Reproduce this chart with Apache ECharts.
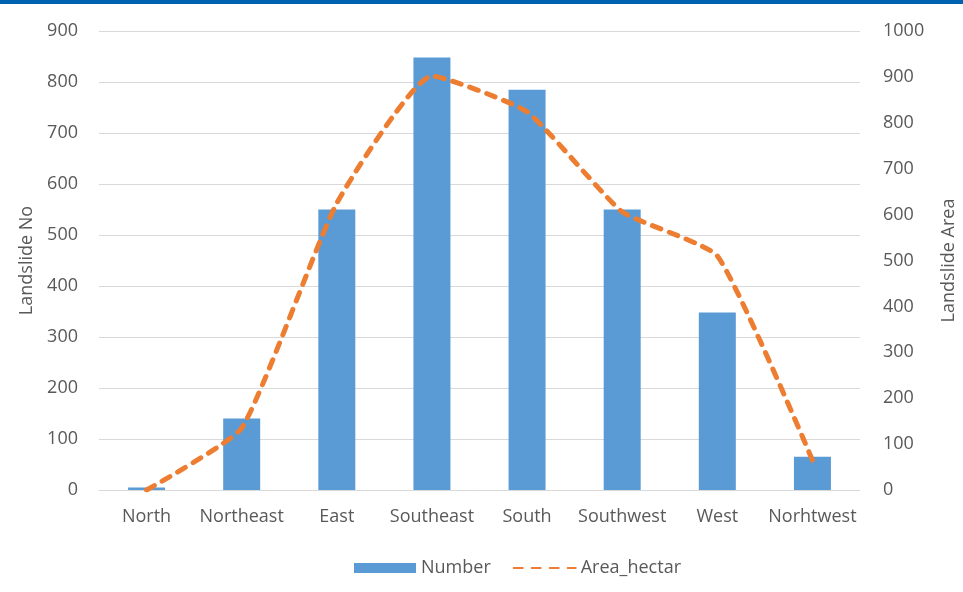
<!DOCTYPE html>
<html>
<head>
<meta charset="utf-8">
<script src="https://cdn.jsdelivr.net/npm/echarts@6/dist/echarts.min.js"></script>
<style>
  html, body { margin: 0; padding: 0; background: #fff; }
  #chart { width: 963px; height: 592px; }
</style>
</head>
<body>
<div id="chart"></div>
<script>
// Landslide counts and affected area by slope aspect
const aspects = ['North', 'Northeast', 'East', 'Southeast', 'South', 'Southwest', 'West', 'Norhtwest'];
const landslideNumber = [5, 140, 550, 848, 785, 550, 348, 65];
const areaHectar = [0, 135, 625, 902, 824, 606, 510, 65];

const textColor = '#595959';
const gridColor = '#d9d9d9';
const fontFamily = '"Open Sans", "DejaVu Sans", sans-serif';
const fontSize = 18;

const chart = echarts.init(document.getElementById('chart'), null, { renderer: 'canvas' });

chart.setOption({
  animation: false,
  backgroundColor: '#ffffff',
  textStyle: { fontFamily: fontFamily, color: textColor },
  graphic: [{
    type: 'rect',
    left: 0, top: 0,
    shape: { width: 963, height: 4 },
    style: { fill: '#0063b1' }
  }],
  grid: { left: 99, right: 103, top: 31, bottom: 102, containLabel: false, outerBoundsMode: 'none' },
  legend: {
    bottom: 10,
    left: 349,
    itemWidth: 62,
    itemHeight: 10,
    itemGap: 22,
    textStyle: { fontSize: fontSize, color: textColor, fontFamily: fontFamily },
    data: [
      { name: 'Number', icon: 'rect' },
      { name: 'Area_hectar', itemStyle: { opacity: 0 } }
    ]
  },
  xAxis: {
    type: 'category',
    data: aspects,
    axisLine: { lineStyle: { color: gridColor, width: 1 } },
    axisTick: { show: false },
    axisLabel: { fontSize: fontSize, color: textColor, margin: 18, interval: 0 }
  },
  yAxis: [
    {
      type: 'value',
      min: 0, max: 900, interval: 100,
      name: 'Landslide No',
      nameLocation: 'middle',
      nameGap: 62,
      nameTextStyle: { fontSize: fontSize, color: textColor },
      axisLine: { show: false },
      axisTick: { show: false },
      axisLabel: { fontSize: fontSize, color: textColor, margin: 21 },
      splitLine: { lineStyle: { color: gridColor, width: 1 } }
    },
    {
      type: 'value',
      min: 0, max: 1000, interval: 100,
      name: 'Landslide Area',
      nameLocation: 'middle',
      nameGap: 80,
      nameRotate: 90,
      nameTextStyle: { fontSize: fontSize, color: textColor },
      axisLine: { show: false },
      axisTick: { show: false },
      axisLabel: { fontSize: fontSize, color: textColor, margin: 23, formatter: (v) => String(v) },
      splitLine: { show: false }
    }
  ],
  series: [
    {
      name: 'Number',
      type: 'bar',
      yAxisIndex: 0,
      data: landslideNumber,
      barWidth: 37,
      itemStyle: { color: '#5b9bd5' }
    },
    {
      name: 'Area_hectar',
      type: 'line',
      yAxisIndex: 1,
      data: areaHectar,
      smooth: 0.15,
      symbol: 'none',
      lineStyle: { color: '#ed7d31', width: 5, type: [9, 9], cap: 'round' },
      itemStyle: { color: '#ed7d31' }
    }
  ]
});
</script>
</body>
</html>
